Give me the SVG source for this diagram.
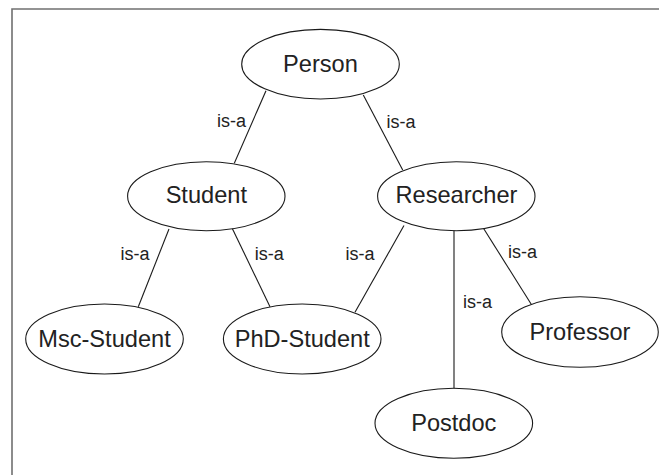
<svg xmlns="http://www.w3.org/2000/svg" width="659" height="475" viewBox="0 0 659 475">
  <style>
    .frame { fill: none; stroke: #707070; stroke-width: 1.6; }
    .node ellipse { fill: #ffffff; stroke: #1a1a1a; stroke-width: 1.1; }
    .node text { font-family: "Liberation Sans", Arial, sans-serif; font-size: 23.6px; fill: #222222; text-anchor: middle; }
    .edges line { stroke: #1a1a1a; stroke-width: 1.1; }
    .edges text { font-family: "Liberation Sans", Arial, sans-serif; font-size: 18px; fill: #222222; }
  </style>
  <rect width="659" height="475" fill="#ffffff"/>
  <!-- frame: top and left sides only -->
  <path class="frame" d="M12,475 V9 H659"/>

  <g id="edges" class="edges">
    <line x1="266" y1="90.7" x2="234.3" y2="163.3"/>
    <line x1="363.3" y1="95" x2="402.7" y2="170"/>
    <line x1="169" y1="229" x2="138.3" y2="306.7"/>
    <line x1="232.3" y1="228.5" x2="270" y2="306.7"/>
    <line x1="404" y1="225.5" x2="355" y2="312.3"/>
    <line x1="454" y1="230.5" x2="454" y2="390"/>
    <line x1="483.3" y1="228" x2="531.7" y2="305"/>
    <text x="217" y="127.3">is-a</text>
    <text x="386.5" y="128.3">is-a</text>
    <text x="120.5" y="260">is-a</text>
    <text x="254.8" y="260">is-a</text>
    <text x="345.5" y="260">is-a</text>
    <text x="508" y="258.3">is-a</text>
    <text x="463" y="308.3">is-a</text>
  </g>

  <g id="person" class="node">
    <ellipse cx="320.5" cy="64.2" rx="78.8" ry="34.8"/>
    <text x="320.5" y="71.5">Person</text>
  </g>
  <g id="student" class="node">
    <ellipse cx="206.3" cy="196.2" rx="78.7" ry="34.5"/>
    <text x="206.3" y="203">Student</text>
  </g>
  <g id="researcher" class="node">
    <ellipse cx="456.3" cy="196.2" rx="78.7" ry="34.5"/>
    <text x="456.5" y="203">Researcher</text>
  </g>
  <g id="msc-student" class="node">
    <ellipse cx="104.5" cy="339" rx="78.8" ry="35"/>
    <text x="104.5" y="346.5">Msc-Student</text>
  </g>
  <g id="phd-student" class="node">
    <ellipse cx="302.2" cy="339" rx="78.8" ry="35"/>
    <text x="302.2" y="346.5">PhD-Student</text>
  </g>
  <g id="professor" class="node">
    <ellipse cx="580" cy="332" rx="78.3" ry="35.3"/>
    <text x="580" y="339.5">Professor</text>
  </g>
  <g id="postdoc" class="node">
    <ellipse cx="453.8" cy="423.3" rx="78.8" ry="35"/>
    <text x="453.8" y="430.5">Postdoc</text>
  </g>
</svg>
